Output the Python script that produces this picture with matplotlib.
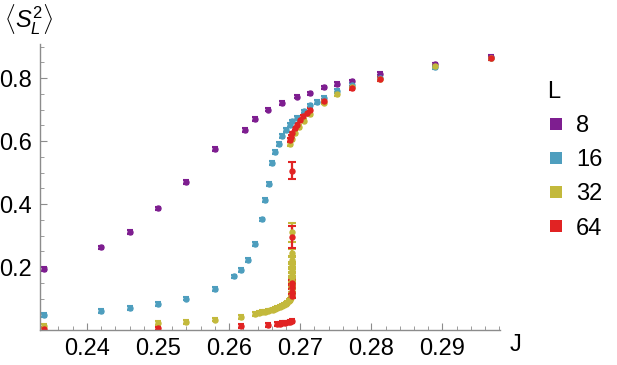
import numpy as np
import matplotlib
matplotlib.use("Agg")
import matplotlib.pyplot as plt
from matplotlib.ticker import MultipleLocator
from matplotlib.lines import Line2D

plt.rcParams["font.family"] = ["Liberation Sans", "DejaVu Sans"]
plt.rcParams["mathtext.fontset"] = "custom"
plt.rcParams["mathtext.rm"] = "Liberation Sans"
plt.rcParams["mathtext.it"] = "Liberation Sans:italic"

# ---------------------------------------------------------------- data
ERR = 0.006  # typical small error bar

J8 = [0.234, 0.242, 0.246, 0.250, 0.254, 0.258, 0.2622, 0.2636, 0.2655,
      0.2675, 0.2695, 0.2714, 0.2734, 0.2752, 0.2773, 0.2812, 0.2890, 0.2969]
S8 = [0.193, 0.262, 0.312, 0.386, 0.469, 0.574, 0.636, 0.669, 0.700,
      0.720, 0.741, 0.751, 0.770, 0.781, 0.789, 0.814, 0.843, 0.868]

J16 = [0.234, 0.242, 0.246, 0.250, 0.254, 0.258, 0.2607, 0.2617, 0.2626,
       0.2636, 0.2646, 0.2651, 0.2656, 0.2661, 0.2665, 0.2670, 0.2675, 0.2680,
       0.2685, 0.2689, 0.2695, 0.2705, 0.2714, 0.2724, 0.2734, 0.2752, 0.2773,
       0.2812, 0.2890, 0.2969]
S16 = [0.047, 0.060, 0.069, 0.083, 0.100, 0.130, 0.170, 0.191, 0.222,
       0.272, 0.351, 0.413, 0.463, 0.529, 0.566, 0.591, 0.615, 0.635,
       0.650, 0.662, 0.674, 0.694, 0.713, 0.725, 0.737, 0.758, 0.778,
       0.800, 0.836, 0.862]

# L = 32: lower branch, vertical jump (large errors), upper branch
J32_lo = [0.234, 0.250, 0.254, 0.258, 0.2617, 0.2636, 0.2642, 0.2646, 0.2650,
          0.2654, 0.2658, 0.2662, 0.2665, 0.2668, 0.2671, 0.2674, 0.2677,
          0.2680, 0.2682, 0.2684, 0.2686, 0.2687, 0.2688]
S32_lo = [0.013, 0.021, 0.025, 0.033, 0.042, 0.051, 0.054, 0.056, 0.058,
          0.060, 0.062, 0.065, 0.067, 0.070, 0.073, 0.076, 0.079,
          0.083, 0.087, 0.091, 0.096, 0.102, 0.110]
J32_mid = [0.2688, 0.2688, 0.2688, 0.2688, 0.2688, 0.2688, 0.2688, 0.2688, 0.2688]
S32_mid = [0.130, 0.145, 0.160, 0.175, 0.190, 0.205, 0.222, 0.245, 0.310]
E32_mid = [0.008, 0.010, 0.010, 0.010, 0.010, 0.010, 0.012, 0.012, 0.030]
J32_hi = [0.2686, 0.2688, 0.2692, 0.2698, 0.2705, 0.2714, 0.2734, 0.2752,
          0.2773, 0.2812, 0.2890, 0.2969]
S32_hi = [0.590, 0.605, 0.625, 0.645, 0.665, 0.685, 0.722, 0.750,
          0.770, 0.798, 0.838, 0.862]

# L = 64
J64_lo = [0.234, 0.250, 0.2617, 0.2655, 0.2667, 0.2671, 0.2675, 0.2679,
          0.2683, 0.2686, 0.2689]
S64_lo = [0.003, 0.005, 0.012, 0.017, 0.019, 0.020, 0.021, 0.022,
          0.024, 0.026, 0.028]
J64_mid = [0.2688, 0.2688, 0.2688, 0.2688, 0.2688, 0.2688]
S64_mid = [0.108, 0.122, 0.137, 0.150, 0.296, 0.506]
E64_mid = [0.006, 0.008, 0.008, 0.008, 0.035, 0.026]
J64_hi = [0.2686, 0.2687, 0.2689, 0.2692, 0.2695, 0.2699, 0.2704, 0.2709,
          0.2714, 0.2734, 0.2773, 0.2812, 0.2969]
S64_hi = [0.603, 0.612, 0.624, 0.640, 0.652, 0.667, 0.678, 0.689,
          0.698, 0.728, 0.768, 0.796, 0.862]

LABELS = ["8", "16", "32", "64"]
COLORS = ["#7E1E90", "#4E9EBE", "#C3B93C", "#E12323"]

# ---------------------------------------------------------------- plot
fig = plt.figure(figsize=(6.17, 3.65), dpi=100)
ax = fig.add_axes([40 / 617, 35 / 365, 460 / 617, 286 / 365])


def pts(x, y, err, col, cap=2.4):
    # caps take their width from capthick; no mew here (it would override it)
    ax.errorbar(x, y, yerr=err, fmt="o", color=col, ms=3.6,
                elinewidth=1.6, capsize=cap, capthick=1.5)


pts(J8, S8, ERR, COLORS[0])
pts(J16, S16, ERR, COLORS[1])
pts(J32_lo, S32_lo, ERR, COLORS[2])
pts(J32_mid, S32_mid, E32_mid, COLORS[2], cap=2.8)
pts(J32_hi, S32_hi, ERR, COLORS[2])
pts(J64_lo, S64_lo, ERR, COLORS[3])
pts(J64_mid, S64_mid, E64_mid, COLORS[3], cap=2.8)
pts(J64_hi, S64_hi, ERR, COLORS[3])

ax.set_xlim(0.2334, 0.2981)
ax.set_ylim(0, 0.908)
ax.set_xticks([0.24, 0.25, 0.26, 0.27, 0.28, 0.29])
ax.set_xticklabels(["0.24", "0.25", "0.26", "0.27", "0.28", "0.29"])
ax.set_yticks([0.2, 0.4, 0.6, 0.8])
ax.set_yticklabels(["0.2", "0.4", "0.6", "0.8"])
ax.xaxis.set_minor_locator(MultipleLocator(0.002))
ax.yaxis.set_minor_locator(MultipleLocator(0.05))
for s in ["top", "right"]:
    ax.spines[s].set_visible(False)
for s in ["left", "bottom"]:
    ax.spines[s].set_color("#8c8c8c")
    ax.spines[s].set_linewidth(1.0)
ax.tick_params(which="both", direction="in", color="#8c8c8c", labelsize=17)
ax.tick_params(which="major", length=5, pad=6)
ax.tick_params(which="minor", length=3)

fig.text(515 / 617, 1 - 345 / 365, "J", fontsize=17, ha="center", va="center")
fig.text(4 / 617, 1 - 20 / 365, r"$\langle S_L^2\rangle$", fontsize=17,
         ha="left", va="center")

handles = [Line2D([], [], ls="", marker="s", ms=9, color=c, mew=0)
           for c in COLORS]
leg = fig.legend(handles, LABELS, title="L", loc="upper left",
                 bbox_to_anchor=(531 / 617, 1 - 64 / 365), frameon=False,
                 fontsize=17, title_fontsize=17, handlelength=0.7,
                 handletextpad=0.5, labelspacing=0.52, borderpad=0.2)
leg._legend_box.align = "left"

fig.savefig("out.png", dpi=100)
